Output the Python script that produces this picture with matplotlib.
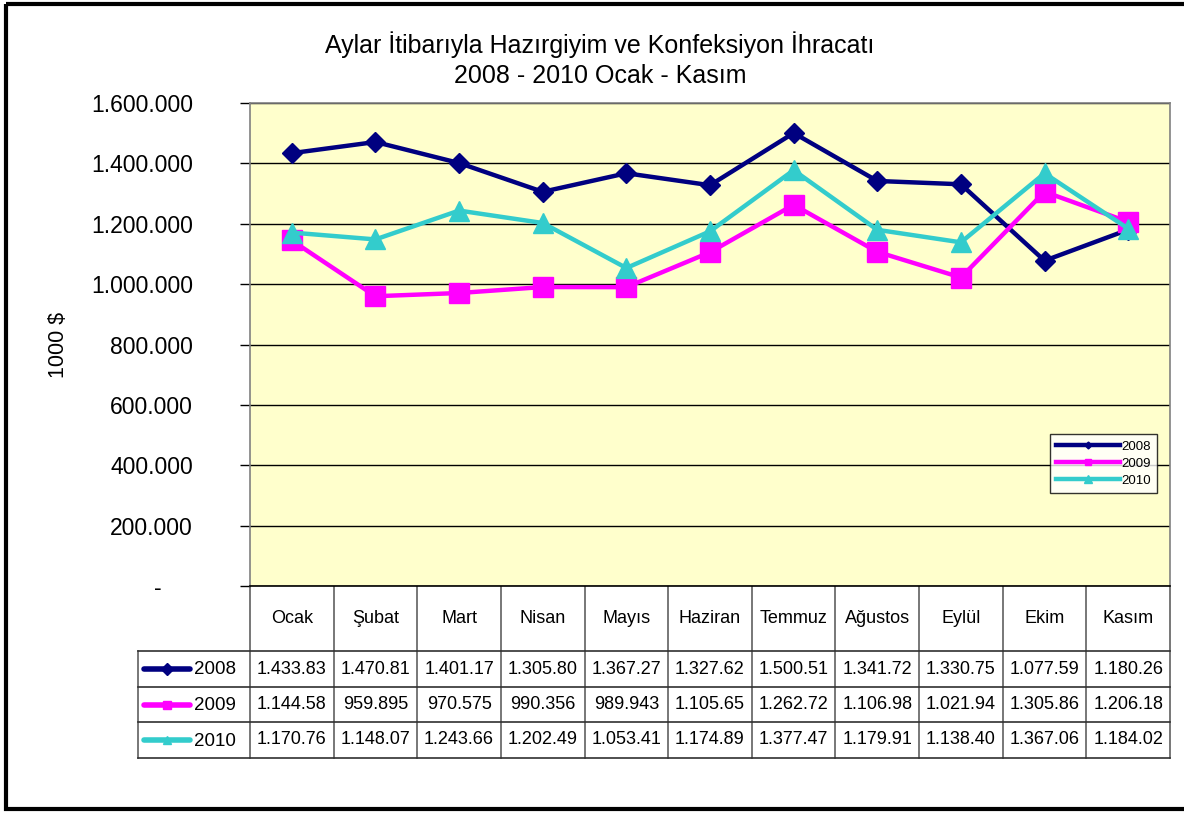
import matplotlib
matplotlib.use("Agg")
import matplotlib.pyplot as plt
import matplotlib.ticker as ticker
from matplotlib.patches import Rectangle
import numpy as np

plt.rcParams['font.family'] = ['Liberation Sans', 'DejaVu Sans']

# Data (1000 $)
months = ['Ocak', 'Şubat', 'Mart', 'Nisan', 'Mayıs', 'Haziran', 'Temmuz',
          'Ağustos', 'Eylül', 'Ekim', 'Kasım']
years = ['2008', '2009', '2010']
exports_2008 = [1433830, 1470810, 1401170, 1305800, 1367270, 1327620,
                1500510, 1341720, 1330750, 1077590, 1180260]
exports_2009 = [1144580, 959895, 970575, 990356, 989943, 1105650,
                1262720, 1106980, 1021940, 1305860, 1206180]
exports_2010 = [1170760, 1148070, 1243660, 1202490, 1053410, 1174890,
                1377470, 1179910, 1138400, 1367060, 1184020]
series = [exports_2008, exports_2009, exports_2010]

colors = ['#000080', '#FF00FF', '#33CCCC']
markers = ['D', 's', '^']
msizes = [10, 14, 15]

W, H = 1184, 814
PL, PR, PT, PB = 250, 1170, 103, 586     # plot area in pixels
ROWS = [651, 687, 722, 758]              # table row lines
KEY_L = 138                              # left edge of table key column

fig = plt.figure(figsize=(W / 100, H / 100), dpi=100)
fig.patch.set_facecolor('white')

# pixel overlay for frame and data table
fax = fig.add_axes([0, 0, 1, 1], zorder=0)
fax.set_xlim(0, W)
fax.set_ylim(H, 0)
fax.axis('off')

ax = fig.add_axes([PL / W, 1 - PB / H, (PR - PL) / W, (PB - PT) / H], zorder=1)
ax.set_facecolor('#FFFFCC')

x = np.arange(len(months))
for vals, lab, c, m, ms in zip(series, years, colors, markers, msizes):
    ax.plot(x, vals, color=c, lw=3.2, marker=m, ms=ms, mec=c, mfc=c,
            label=lab, zorder=3)

ax.set_xlim(-0.5, len(months) - 0.5)
ax.set_ylim(0, 1600000)
ax.set_yticks(np.arange(0, 1600001, 200000))
ax.grid(axis='y', color='black', lw=1)
ax.set_axisbelow(True)
ax.set_xticks([])


def dot_fmt(v, pos=None):
    if v == 0:
        return '-' + ' ' * 5
    return f'{int(v):,}'.replace(',', '.')


ax.yaxis.set_major_formatter(ticker.FuncFormatter(dot_fmt))
ax.tick_params(axis='y', direction='out', length=7, width=1, pad=34,
               labelsize=16.5, color='black')
for s in ax.spines.values():
    s.set_color('#808080')
    s.set_linewidth(1.2)
ax.spines['bottom'].set_color('black')

ax.set_ylabel('1000 $', fontsize=15.5, labelpad=16)

leg = ax.legend(loc='upper left', bbox_to_anchor=(0.862, 0.328), fontsize=9.5,
                frameon=True, fancybox=False, edgecolor='black',
                handlelength=4.8, handletextpad=0.1, borderpad=0.5,
                labelspacing=0.35, markerscale=0.35)
leg.get_frame().set_linewidth(1)

fig.text(600 / W, 1 - 45 / H, 'Aylar İtibarıyla Hazırgiyim ve Konfeksiyon İhracatı',
         ha='center', va='center', fontsize=18)
fig.text(600 / W, 1 - 76 / H, '2008 - 2010 Ocak - Kasım',
         ha='center', va='center', fontsize=18)

# data table under the plot
cw = (PR - PL) / len(months)
for i in range(len(months) + 1):
    xe = PL + i * cw
    fax.plot([xe, xe], [PB, ROWS[-1]], color='#606060', lw=1.2)
fax.plot([KEY_L, KEY_L], [ROWS[0], ROWS[-1]], color='#606060', lw=1.2)
for yr in ROWS:
    fax.plot([KEY_L, PR], [yr, yr], color='#303030', lw=1.2)

for i, mname in enumerate(months):
    fax.text(PL + (i + 0.5) * cw, (PB + ROWS[0]) / 2, mname, ha='center',
             va='center', fontsize=13)


def cell_fmt(v):
    return dot_fmt(v)[:8]


for r, (vals, lab, c, m) in enumerate(zip(series, years, colors, markers)):
    yc = (ROWS[r] + ROWS[r + 1]) / 2
    fax.plot([KEY_L + 6, KEY_L + 52], [yc, yc], color=c, lw=4,
             solid_capstyle='round')
    fax.plot([KEY_L + 29], [yc], marker=m, ms=6, color=c)
    fax.text(KEY_L + 56, yc + 1, lab, ha='left', va='center', fontsize=13.5)
    for i, v in enumerate(vals):
        fax.text(PL + (i + 0.5) * cw, yc, cell_fmt(v), ha='center',
                 va='center', fontsize=13)

# outer chart frame
fax.add_patch(Rectangle((6, 4), W + 10, 805, fill=False, ec='black', lw=3))

fig.savefig('out.png', dpi=100)
